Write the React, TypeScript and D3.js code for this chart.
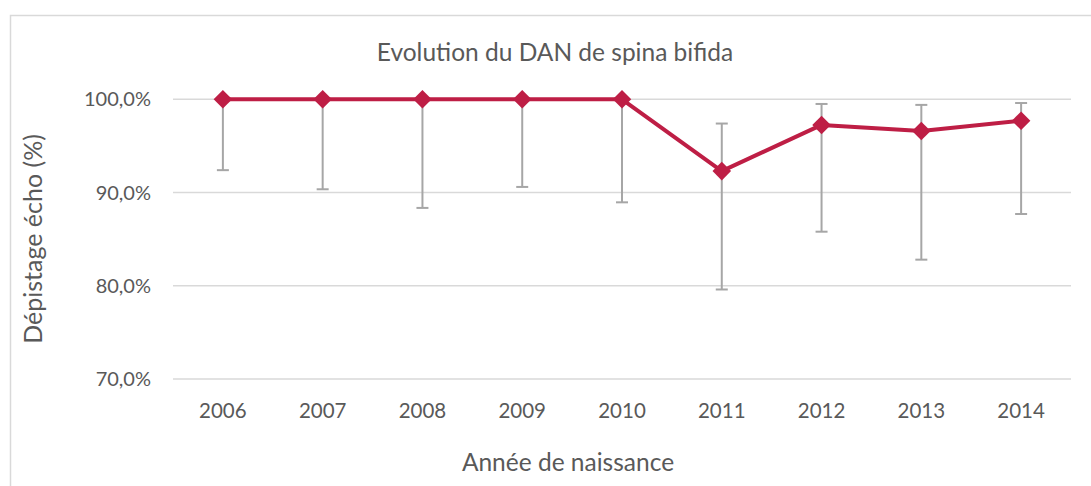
import * as d3 from "d3";
import { useEffect, useRef } from "react";

const years = ["2006", "2007", "2008", "2009", "2010", "2011", "2012", "2013", "2014"];
const rates = [100, 100, 100, 100, 100, 92.3, 97.25, 96.6, 97.7];
const lowerBounds = [92.4, 90.35, 88.35, 90.6, 88.95, 79.6, 85.8, 82.8, 87.7];
const upperBounds = [100, 100, 100, 100, 100, 97.4, 99.5, 99.4, 99.6];
const yTicks = [70, 80, 90, 100];

export default function App() {
  const ref = useRef<SVGSVGElement>(null);

  useEffect(() => {
    const svg = d3.select(ref.current);
    svg.selectAll("*").remove();

    const font = "'Lato', 'Open Sans', sans-serif";
    const textColor = "#595959";

    // chart frame
    svg
      .append("rect")
      .attr("x", 10.5)
      .attr("y", 15.5)
      .attr("width", 1200)
      .attr("height", 600)
      .attr("fill", "white")
      .attr("stroke", "#d9d9d9")
      .attr("stroke-width", 1.5);

    const x = d3.scaleBand().domain(years).range([173, 1071]);
    const y = d3.scaleLinear().domain([70, 100]).range([379, 99.3]);
    const cx = (d: string) => (x(d) as number) + x.bandwidth() / 2;

    // gridlines
    svg
      .append("g")
      .selectAll("line")
      .data(yTicks)
      .enter()
      .append("line")
      .attr("x1", 173)
      .attr("x2", 1071)
      .attr("y1", (d) => y(d))
      .attr("y2", (d) => y(d))
      .attr("stroke", "#d9d9d9")
      .attr("stroke-width", 1.5);

    // y tick labels
    svg
      .append("g")
      .selectAll("text")
      .data(yTicks)
      .enter()
      .append("text")
      .attr("x", 151)
      .attr("y", (d) => y(d))
      .attr("dy", "0.35em")
      .attr("text-anchor", "end")
      .attr("font-family", font)
      .attr("font-size", 20)
      .attr("fill", textColor)
      .text((d) => d3.format(".1f")(d).replace(".", ",") + "%");

    // x tick labels
    svg
      .append("g")
      .selectAll("text")
      .data(years)
      .enter()
      .append("text")
      .attr("x", (d) => cx(d))
      .attr("y", 411)
      .attr("dy", "0.35em")
      .attr("text-anchor", "middle")
      .attr("font-family", font)
      .attr("font-size", 20.5)
      .attr("fill", textColor)
      .text((d) => d);

    // error bars
    const bars = svg.append("g").attr("stroke", "#a6a6a6").attr("stroke-width", 2);
    years.forEach((yr, i) => {
      const px = cx(yr);
      bars
        .append("line")
        .attr("x1", px)
        .attr("x2", px)
        .attr("y1", y(upperBounds[i]))
        .attr("y2", y(lowerBounds[i]));
      bars
        .append("line")
        .attr("x1", px - 6)
        .attr("x2", px + 6)
        .attr("y1", y(lowerBounds[i]))
        .attr("y2", y(lowerBounds[i]));
      if (upperBounds[i] > rates[i]) {
        bars
          .append("line")
          .attr("x1", px - 6)
          .attr("x2", px + 6)
          .attr("y1", y(upperBounds[i]))
          .attr("y2", y(upperBounds[i]));
      }
    });

    // the line
    const line = d3
      .line<number>()
      .x((d, i) => cx(years[i]))
      .y((d) => y(d));

    svg
      .append("path")
      .datum(rates)
      .attr("d", line)
      .attr("fill", "none")
      .attr("stroke", "#be1e45")
      .attr("stroke-width", 4)
      .attr("stroke-linejoin", "round");

    // diamond markers
    const diamond = d3.symbol().type(d3.symbolDiamond2).size(220);
    svg
      .append("g")
      .selectAll("path")
      .data(rates)
      .enter()
      .append("path")
      .attr("d", diamond)
      .attr("transform", (d, i) => "translate(" + cx(years[i]) + "," + y(d) + ")")
      .attr("fill", "#be1e45");

    // titles
    svg
      .append("text")
      .attr("x", 555)
      .attr("y", 52)
      .attr("dy", "0.35em")
      .attr("text-anchor", "middle")
      .attr("font-family", font)
      .attr("font-size", 24.5)
      .attr("fill", textColor)
      .text("Evolution du DAN de spina bifida");

    svg
      .append("text")
      .attr("x", 568)
      .attr("y", 462)
      .attr("dy", "0.35em")
      .attr("text-anchor", "middle")
      .attr("font-family", font)
      .attr("font-size", 24.5)
      .attr("fill", textColor)
      .text("Année de naissance");

    svg
      .append("text")
      .attr("transform", "translate(33,239) rotate(-90)")
      .attr("dy", "0.35em")
      .attr("text-anchor", "middle")
      .attr("font-family", font)
      .attr("font-size", 25)
      .attr("fill", textColor)
      .text("Dépistage écho (%)");
  }, []);

  return (
    <svg
      ref={ref}
      width={1091}
      height={486}
      style={{ position: "absolute", left: 0, top: 0, background: "white" }}
    />
  );
}
